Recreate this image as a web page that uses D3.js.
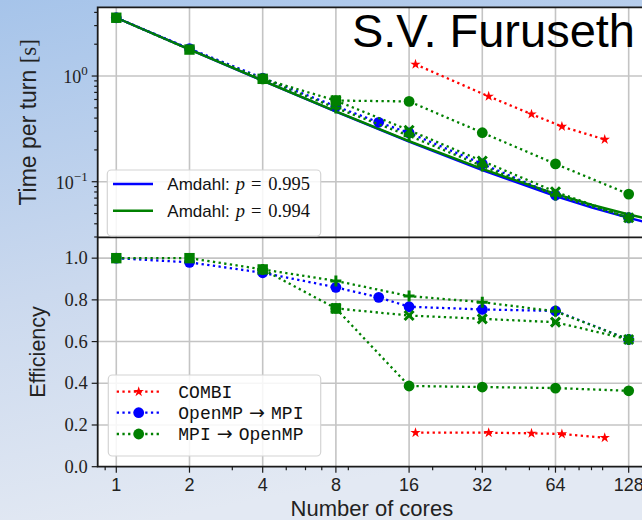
<!DOCTYPE html>
<html>
<head>
<meta charset="utf-8">
<script src="https://cdn.jsdelivr.net/npm/d3@7/dist/d3.min.js"></script>
<style>
  body { margin: 0; }
  svg { display: block; }
</style>
</head>
<body>
<script>
// values
var amdahlCores = [1, 2, 4, 8, 16, 32, 64, 90.5, 128, 181, 256];
var amdahl995 = [3.56, 1.789, 0.903, 0.461, 0.239, 0.1285, 0.0732, 0.0569, 0.0455, 0.0374, 0.0316];
var amdahl994 = [3.56, 1.791, 0.906, 0.464, 0.2425, 0.132, 0.0767, 0.0605, 0.049, 0.0409, 0.0352];

var combiCores = [17, 34, 51, 68, 102];
var combiTime = [1.29, 0.642, 0.436, 0.333, 0.251];
var combiEff = [0.163, 0.163, 0.160, 0.157, 0.139];

var ompCores = [1, 2, 4, 8, 12, 16, 32, 64, 128];
var ompTime = [3.56, 1.816, 0.957, 0.517, 0.365, 0.290, 0.1475, 0.0745, 0.0456];
var ompEff = [1.0, 0.98, 0.93, 0.86, 0.812, 0.767, 0.754, 0.747, 0.61];

var mpiSqCores = [1, 2, 4, 8];
var mpiSqTime = [3.56, 1.78, 0.941, 0.586];
var mpiSqEff = [1.0, 1.0, 0.946, 0.759];

var mpiCircCores = [8, 16, 32, 64, 128];
var mpiCircTime = [0.586, 0.575, 0.291, 0.1475, 0.0764];
var mpiCircEff = [0.759, 0.387, 0.382, 0.377, 0.364];

var mpiPlusCores = [4, 8, 16, 32, 64, 128];
var mpiPlusTime = [0.941, 0.499, 0.272, 0.141, 0.0747, 0.0456];
var mpiPlusEff = [0.946, 0.891, 0.818, 0.789, 0.745, 0.61];

var mpiCrossCores = [8, 16, 32, 64, 128];
var mpiCrossTime = [0.586, 0.307, 0.157, 0.0803, 0.0456];
var mpiCrossEff = [0.759, 0.725, 0.709, 0.693, 0.61];

var xTicks = [1, 2, 4, 8, 16, 32, 64, 128];
var xMinor = [0.9, 3, 5, 6, 7, 9, 20, 30, 40, 50, 60, 70, 80, 90, 100];
var effTicks = [0, 0.2, 0.4, 0.6, 0.8, 1.0];
var timeMajor = [1, 0.1];
var timeMinor = [0.03, 0.04, 0.05, 0.06, 0.07, 0.08, 0.09, 0.2, 0.3, 0.4, 0.5, 0.6, 0.7, 0.8, 0.9, 2, 3, 4];

var W = 642, H = 520;
var left = 97.7, right = 646, top1 = 7.3, mid = 237.3, bottom = 466.7;

var sans = '"Liberation Sans", Arial, sans-serif';
var serif = '"Liberation Serif", "DejaVu Serif", serif';
var mono = '"Liberation Mono", "DejaVu Sans Mono", monospace';

var x = d3.scaleLog().base(2).domain([0.8386, 150.8]).range([left, right]);
var yTime = d3.scaleLog().domain([4.47, 0.0298]).range([top1, mid]);
var yEff = d3.scaleLinear().domain([0, 1.1]).range([bottom, mid]);

var svg = d3.select('body').append('svg')
  .attr('width', W)
  .attr('height', H);

var defs = svg.append('defs');
var grad = defs.append('linearGradient').attr('id', 'bg')
  .attr('x1', 0).attr('y1', 0).attr('x2', 0.25).attr('y2', 1);
grad.append('stop').attr('offset', '0%').attr('stop-color', '#a6c4ea');
grad.append('stop').attr('offset', '55%').attr('stop-color', '#cbd9ee');
grad.append('stop').attr('offset', '100%').attr('stop-color', '#e3e9f3');
svg.append('rect').attr('width', W).attr('height', H).attr('fill', 'url(#bg)');

defs.append('clipPath').attr('id', 'clipTop').append('rect')
  .attr('x', left).attr('y', top1).attr('width', right - left).attr('height', mid - top1);
defs.append('clipPath').attr('id', 'clipBot').append('rect')
  .attr('x', left).attr('y', mid).attr('width', right - left).attr('height', bottom - mid);

svg.append('rect')
  .attr('x', left).attr('y', top1)
  .attr('width', right - left).attr('height', bottom - top1)
  .attr('fill', '#fff');

var gTop = svg.append('g').attr('clip-path', 'url(#clipTop)');
var gBot = svg.append('g').attr('clip-path', 'url(#clipBot)');

// grid
function grid(g, yScale, yVals, y0, y1) {
  xTicks.forEach(function(t) {
    g.append('line').attr('x1', x(t)).attr('x2', x(t)).attr('y1', y0).attr('y2', y1)
      .attr('stroke', '#c4c4c4').attr('stroke-width', 1.6);
  });
  yVals.forEach(function(v) {
    g.append('line').attr('x1', left).attr('x2', right).attr('y1', yScale(v)).attr('y2', yScale(v))
      .attr('stroke', '#c4c4c4').attr('stroke-width', 1.6);
  });
}
grid(gTop, yTime, timeMajor, top1, mid);
grid(gBot, yEff, effTicks, mid, bottom);

function drawMarker(g, px, py, marker, color) {
  if (marker == 'o') {
    g.append('circle').attr('cx', px).attr('cy', py).attr('r', 5.4).attr('fill', color);
  } else if (marker == 's') {
    g.append('rect').attr('x', px - 5.2).attr('y', py - 5.2).attr('width', 10.4).attr('height', 10.4).attr('fill', color);
  } else if (marker == '*') {
    g.append('path').attr('transform', 'translate(' + px + ',' + py + ')')
      .attr('d', d3.symbol().type(d3.symbolStar).size(34)()).attr('fill', color);
  } else if (marker == '+') {
    g.append('path').attr('transform', 'translate(' + px + ',' + py + ')')
      .attr('d', 'M-5.5,0H5.5M0,-5.5V5.5').attr('stroke', color).attr('stroke-width', 3);
  } else if (marker == 'x') {
    g.append('path').attr('transform', 'translate(' + px + ',' + py + ')')
      .attr('d', 'M-4.5,-4.5L4.5,4.5M-4.5,4.5L4.5,-4.5').attr('stroke', color).attr('stroke-width', 3);
  }
}

function drawSeries(g, xs, ys, yScale, color, dotted, marker) {
  var pts = xs.map(function(c, i) { return [x(c), yScale(ys[i])]; });
  g.append('path')
    .attr('d', d3.line()(pts))
    .attr('fill', 'none')
    .attr('stroke', color)
    .attr('stroke-width', dotted ? 2.3 : 2.4)
    .attr('stroke-dasharray', dotted ? '2.3,3.4' : null);
  if (marker) {
    pts.forEach(function(p) { drawMarker(g, p[0], p[1], marker, color); });
  }
}

var RED = '#ff0000', BLUE = '#0000ff', GREEN = '#008000';

// top panel: time per turn
drawSeries(gTop, amdahlCores, amdahl995, yTime, BLUE, false, null);
drawSeries(gTop, amdahlCores, amdahl994, yTime, GREEN, false, null);
drawSeries(gTop, combiCores, combiTime, yTime, RED, true, '*');
drawSeries(gTop, ompCores, ompTime, yTime, BLUE, true, 'o');
drawSeries(gTop, mpiCircCores, mpiCircTime, yTime, GREEN, true, 'o');
drawSeries(gTop, mpiPlusCores, mpiPlusTime, yTime, GREEN, true, '+');
drawSeries(gTop, mpiCrossCores, mpiCrossTime, yTime, GREEN, true, 'x');
drawSeries(gTop, mpiSqCores, mpiSqTime, yTime, GREEN, true, 's');

// bottom panel: efficiency
drawSeries(gBot, combiCores, combiEff, yEff, RED, true, '*');
drawSeries(gBot, ompCores, ompEff, yEff, BLUE, true, 'o');
drawSeries(gBot, mpiCircCores, mpiCircEff, yEff, GREEN, true, 'o');
drawSeries(gBot, mpiPlusCores, mpiPlusEff, yEff, GREEN, true, '+');
drawSeries(gBot, mpiCrossCores, mpiCrossEff, yEff, GREEN, true, 'x');
drawSeries(gBot, mpiSqCores, mpiSqEff, yEff, GREEN, true, 's');

// spines
var axes = svg.append('g');
axes.append('path')
  .attr('d', 'M' + right + ',' + top1 + 'H' + left + 'V' + bottom + 'H' + right)
  .attr('fill', 'none').attr('stroke', '#1a1a1a').attr('stroke-width', 1.8);
axes.append('line').attr('x1', left).attr('x2', right).attr('y1', mid).attr('y2', mid)
  .attr('stroke', '#1a1a1a').attr('stroke-width', 1.8);

// ticks
function tick(x1, y1, x2, y2) {
  axes.append('line').attr('x1', x1).attr('y1', y1).attr('x2', x2).attr('y2', y2)
    .attr('stroke', '#1a1a1a').attr('stroke-width', 1.2);
}
timeMajor.forEach(function(v) { tick(left - 6, yTime(v), left, yTime(v)); });
timeMinor.forEach(function(v) { tick(left - 3.5, yTime(v), left, yTime(v)); });
effTicks.forEach(function(v) { tick(left - 6, yEff(v), left, yEff(v)); });
xTicks.forEach(function(t) { tick(x(t), bottom, x(t), bottom + 6); });
xMinor.forEach(function(t) { tick(x(t), bottom, x(t), bottom + 3.5); });

// tick labels
timeMajor.forEach(function(v) {
  var t = axes.append('text').attr('x', left - 10).attr('y', yTime(v) + 7)
    .attr('text-anchor', 'end').attr('font-family', serif).attr('font-size', 18).attr('fill', '#222');
  t.append('tspan').text('10');
  t.append('tspan').attr('dy', -8).attr('font-size', 13).text(v == 1 ? '0' : '\u22121');
});
effTicks.forEach(function(v) {
  axes.append('text').attr('x', left - 10).attr('y', yEff(v) + 6)
    .attr('text-anchor', 'end').attr('font-family', serif).attr('font-size', 18.5).attr('fill', '#222')
    .text(d3.format('.1f')(v));
});
xTicks.forEach(function(t) {
  axes.append('text').attr('x', x(t)).attr('y', 491)
    .attr('text-anchor', 'middle').attr('font-family', sans).attr('font-size', 18).attr('fill', '#222')
    .text(t);
});

// axis labels
var yl1 = axes.append('text').attr('transform', 'translate(36,' + ((top1 + mid) / 2) + ') rotate(-90)')
  .attr('text-anchor', 'middle').attr('font-family', sans).attr('font-size', 23).attr('fill', '#222');
yl1.append('tspan').text('Time per turn ');
yl1.append('tspan').attr('font-family', serif).text('[s]');

axes.append('text').attr('transform', 'translate(45,' + ((mid + bottom) / 2) + ') rotate(-90)')
  .attr('text-anchor', 'middle').attr('font-family', sans).attr('font-size', 21.5).attr('fill', '#222')
  .text('Efficiency');

axes.append('text').attr('x', (left + right) / 2).attr('y', 516)
  .attr('text-anchor', 'middle').attr('font-family', sans).attr('font-size', 22).attr('fill', '#222')
  .text('Number of cores');

// legends
var leg1 = svg.append('g');
leg1.append('rect').attr('x', 107.3).attr('y', 170).attr('width', 213.4).attr('height', 66)
  .attr('rx', 4).attr('fill', '#fff').attr('fill-opacity', 0.85).attr('stroke', '#d4d4d4').attr('stroke-width', 1.2);
[[BLUE, '0.995', 184], [GREEN, '0.994', 210.7]].forEach(function(r) {
  leg1.append('line').attr('x1', 113).attr('x2', 153).attr('y1', r[2]).attr('y2', r[2])
    .attr('stroke', r[0]).attr('stroke-width', 2.4);
  var t = leg1.append('text').attr('x', 167.3).attr('y', r[2] + 6)
    .attr('font-family', sans).attr('font-size', 17).attr('fill', '#111');
  t.append('tspan').text('Amdahl:');
  t.append('tspan').attr('dx', 6).attr('font-family', serif).attr('font-style', 'italic').attr('font-size', 18.5).text('p');
  t.append('tspan').attr('dx', 6).attr('font-family', serif).attr('font-size', 18.5).text('=');
  t.append('tspan').attr('dx', 7).attr('font-family', serif).attr('font-size', 18.5).text(r[1]);
});

var leg2 = svg.append('g');
leg2.append('rect').attr('x', 108.3).attr('y', 375).attr('width', 212.4).attr('height', 81)
  .attr('rx', 4).attr('fill', '#fff').attr('fill-opacity', 0.85).attr('stroke', '#d4d4d4').attr('stroke-width', 1.2);
var legRows = [
  [RED, '*', ['COMBI'], 391.7],
  [BLUE, 'o', ['OpenMP', 'MPI'], 412.7],
  [GREEN, 'o', ['MPI', 'OpenMP'], 434]
];
legRows.forEach(function(r) {
  leg2.append('line').attr('x1', 116.7).attr('x2', 160.7).attr('y1', r[3]).attr('y2', r[3])
    .attr('stroke', r[0]).attr('stroke-width', 2.3).attr('stroke-dasharray', '2.3,3.4');
  drawMarker(leg2, 138.7, r[3], r[1], r[0]);
  var t = leg2.append('text').attr('x', 178.3).attr('y', r[3] + 6)
    .attr('font-family', mono).attr('font-size', 18).attr('fill', '#111');
  t.append('tspan').text(r[2][0]);
  if (r[2].length > 1) {
    t.append('tspan').attr('dx', 6).attr('font-family', '"DejaVu Sans", sans-serif').attr('font-size', 19).text('\u2192');
    t.append('tspan').attr('dx', 6).text(r[2][1]);
  }
});

// signature
svg.append('text').attr('x', 635).attr('y', 46.7)
  .attr('text-anchor', 'end').attr('font-family', sans).attr('font-size', 47).attr('fill', '#000')
  .text('S.V. Furuseth');
</script>
</body>
</html>
